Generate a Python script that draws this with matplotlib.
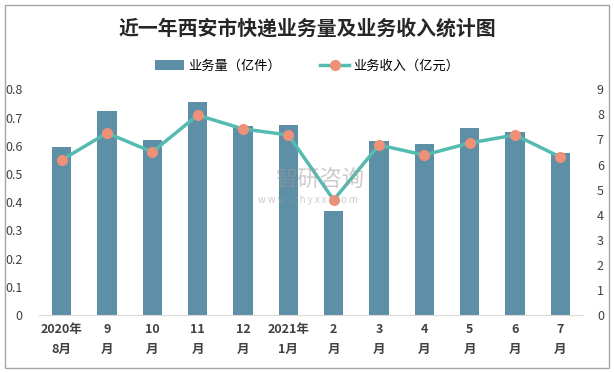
import numpy as np
import matplotlib.pyplot as plt
from matplotlib.patches import Rectangle

plt.rcParams['font.family'] = ['Noto Sans CJK SC', 'DejaVu Sans']

months = ["2020年\n8月", "9\n月", "10\n月", "11\n月", "12\n月", "2021年\n1月",
          "2\n月", "3\n月", "4\n月", "5\n月", "6\n月", "7\n月"]
volume = [0.595, 0.722, 0.619, 0.754, 0.669, 0.673,
          0.368, 0.616, 0.605, 0.662, 0.648, 0.573]
revenue = [6.18, 7.26, 6.50, 7.97, 7.42, 7.18,
           4.59, 6.78, 6.38, 6.86, 7.18, 6.30]

bar_color = "#5d8fa7"
line_color = "#55bbb0"
marker_color = "#ef9079"

fig = plt.figure(figsize=(6.14, 3.73), dpi=100)
fig.patches.append(Rectangle((5 / 614, 5 / 373), 604 / 614, 363 / 373,
                             transform=fig.transFigure, fill=False,
                             edgecolor="#a6a6a6", linewidth=1))

ax = fig.add_axes([0.0635, 0.1555, 0.886, 0.605])
x = np.arange(len(months))
bars = ax.bar(x, volume, width=0.43, color=bar_color, label="业务量（亿件）")
ax.set_xlim(-0.5, len(months) - 0.5)
ax.set_ylim(0, 0.8)
ax.set_yticks(np.arange(0, 0.81, 0.1))
ax.set_yticklabels(["0"] + [f"{v:.1f}" for v in np.arange(0.1, 0.81, 0.1)])
ax.set_xticks(x)
ax.set_xticklabels(months, fontweight="bold", fontsize=9, linespacing=1.7)
for s in ["top", "left", "right"]:
    ax.spines[s].set_visible(False)
ax.spines["bottom"].set_color("#d9d9d9")
ax.tick_params(axis="both", length=0, labelsize=9, colors="#404040")
ax.tick_params(axis="y", pad=12)
ax.tick_params(axis="x", pad=6)

ax2 = ax.twinx()
line, = ax2.plot(x, revenue, color=line_color, linewidth=2.5, marker="o",
                 markersize=7, markerfacecolor=marker_color,
                 markeredgecolor=marker_color, label="业务收入（亿元）")
ax2.set_ylim(0, 9)
ax2.set_yticks(range(0, 10))
for s in ["top", "left", "right", "bottom"]:
    ax2.spines[s].set_visible(False)
ax2.tick_params(axis="y", length=0, labelsize=9, colors="#404040", pad=10)

fig.suptitle("近一年西安市快递业务量及业务收入统计图", y=1 - 28 / 373, va="center",
             fontsize=14.3, fontweight="bold", color="#262626")
fig.legend(handles=[bars, line], loc="center", bbox_to_anchor=(0.5, 1 - 66 / 373),
           ncol=2, frameon=False, fontsize=9.5, handlelength=2.2,
           columnspacing=3, handletextpad=0.3)

# watermark
fig.text(320 / 614, 1 - 180 / 373, "智研咨询", ha="center", va="center",
         fontsize=16, color="#9a9a9a", alpha=0.5)
fig.text(308 / 614, 1 - 200 / 373, "w w w . c h y x x . c o m", ha="center",
         va="center", fontsize=7, color="#9a9a9a", alpha=0.5)

fig.savefig("out.png", dpi=100)
